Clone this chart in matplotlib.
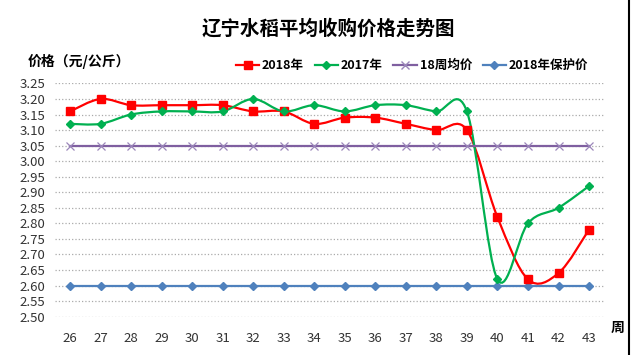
import matplotlib
matplotlib.use('Agg')
from matplotlib import pyplot as plt
from matplotlib.path import Path
from matplotlib.patches import PathPatch
from matplotlib.lines import Line2D

plt.rcParams['font.family'] = ['Noto Sans CJK SC', 'DejaVu Sans']

weeks = [26, 27, 28, 29, 30, 31, 32, 33, 34, 35, 36, 37, 38, 39, 40, 41, 42, 43]
price_2018 = [3.16, 3.20, 3.18, 3.18, 3.18, 3.18, 3.16, 3.16, 3.12, 3.14,
              3.14, 3.12, 3.10, 3.10, 2.82, 2.62, 2.64, 2.78]
price_2017 = [3.12, 3.12, 3.15, 3.16, 3.16, 3.16, 3.20, 3.16, 3.18, 3.16,
              3.18, 3.18, 3.16, 3.16, 2.62, 2.80, 2.85, 2.92]
avg_18wk = [3.05] * 18
support_2018 = [2.60] * 18
yticks = [2.50, 2.55, 2.60, 2.65, 2.70, 2.75, 2.80, 2.85, 2.90, 2.95,
          3.00, 3.05, 3.10, 3.15, 3.20, 3.25]


def smooth_path(xs, ys):
  # bezier through the points, like a spreadsheet "smoothed line"
  verts = [(xs[0], ys[0])]
  codes = [Path.MOVETO]
  n = len(xs)
  for i in range(n - 1):
    p0 = (xs[max(i - 1, 0)], ys[max(i - 1, 0)])
    p1 = (xs[i], ys[i])
    p2 = (xs[i + 1], ys[i + 1])
    p3 = (xs[min(i + 2, n - 1)], ys[min(i + 2, n - 1)])
    c1 = (p1[0] + (p2[0] - p0[0]) / 6, p1[1] + (p2[1] - p0[1]) / 6)
    c2 = (p2[0] - (p3[0] - p1[0]) / 6, p2[1] - (p3[1] - p1[1]) / 6)
    verts += [c1, c2, p2]
    codes += [Path.CURVE4] * 3
  return Path(verts, codes)


fig = plt.figure(figsize=(6.31, 3.55), dpi=100)
ax = fig.add_axes([0.0867, 0.108, 0.871, 0.657])

red = '#FF0000'
green = '#00B050'
purple = '#7F5FA0'
blue = '#4F81BD'
lw = 1.6

ax.add_patch(PathPatch(smooth_path(weeks, price_2018), fill=False, edgecolor=red, lw=lw, zorder=3))
ax.plot(weeks, price_2018, ls='none', marker='s', ms=5.5, color=red, zorder=4)
ax.add_patch(PathPatch(smooth_path(weeks, price_2017), fill=False, edgecolor=green, lw=lw, zorder=3))
ax.plot(weeks, price_2017, ls='none', marker='D', ms=4.5, color=green, zorder=4)
ax.plot(weeks, avg_18wk, color=purple, lw=lw, marker='x', ms=6, mew=0.9, mec='#9B86BA', zorder=3)
ax.plot(weeks, support_2018, color=blue, lw=lw, marker='D', ms=4.5, zorder=3)

ax.set_xlim(25.5, 43.5)
ax.set_ylim(2.50, 3.25)
ax.set_xticks(weeks)
ax.set_xticklabels([str(w) for w in weeks])
ax.set_yticks(yticks)
ax.set_yticklabels(['%.2f' % v for v in yticks])
ax.tick_params(length=0, labelsize=9.5, colors='#333333', pad=11)
ax.tick_params(axis='y', pad=7)
for s in ax.spines.values():
  s.set_visible(False)
ax.yaxis.grid(True, color='#AAAAAA', ls=':', lw=0.9)
ax.set_axisbelow(True)

fig.text(0.52, 0.92, '辽宁水稻平均收购价格走势图', ha='center', va='center', fontsize=14, fontweight='bold')
fig.text(0.044, 0.828, '价格（元/公斤）', ha='left', va='center', fontsize=10, fontweight='bold')
fig.text(0.978, 0.077, '周', ha='center', va='center', fontsize=10, fontweight='bold')

handles = [
  Line2D([], [], color=red, lw=lw, marker='s', ms=5.5),
  Line2D([], [], color=green, lw=lw, marker='D', ms=4.5),
  Line2D([], [], color=purple, lw=lw, marker='x', ms=6, mec='#9B86BA'),
  Line2D([], [], color=blue, lw=lw, marker='D', ms=4.5),
]
labels = ['2018年', '2017年', '18周均价', '2018年保护价']
fig.legend(handles, labels, loc='center', bbox_to_anchor=(0.653, 0.815), ncol=4, frameon=False,
           handlelength=1.9, columnspacing=0.85, handletextpad=0.2,
           prop={'weight': 'bold', 'size': 9})

fig.add_artist(Line2D([0.9965, 0.9965], [0, 1], color='black', lw=1.5, transform=fig.transFigure))

fig.savefig('out.png', dpi=100)
